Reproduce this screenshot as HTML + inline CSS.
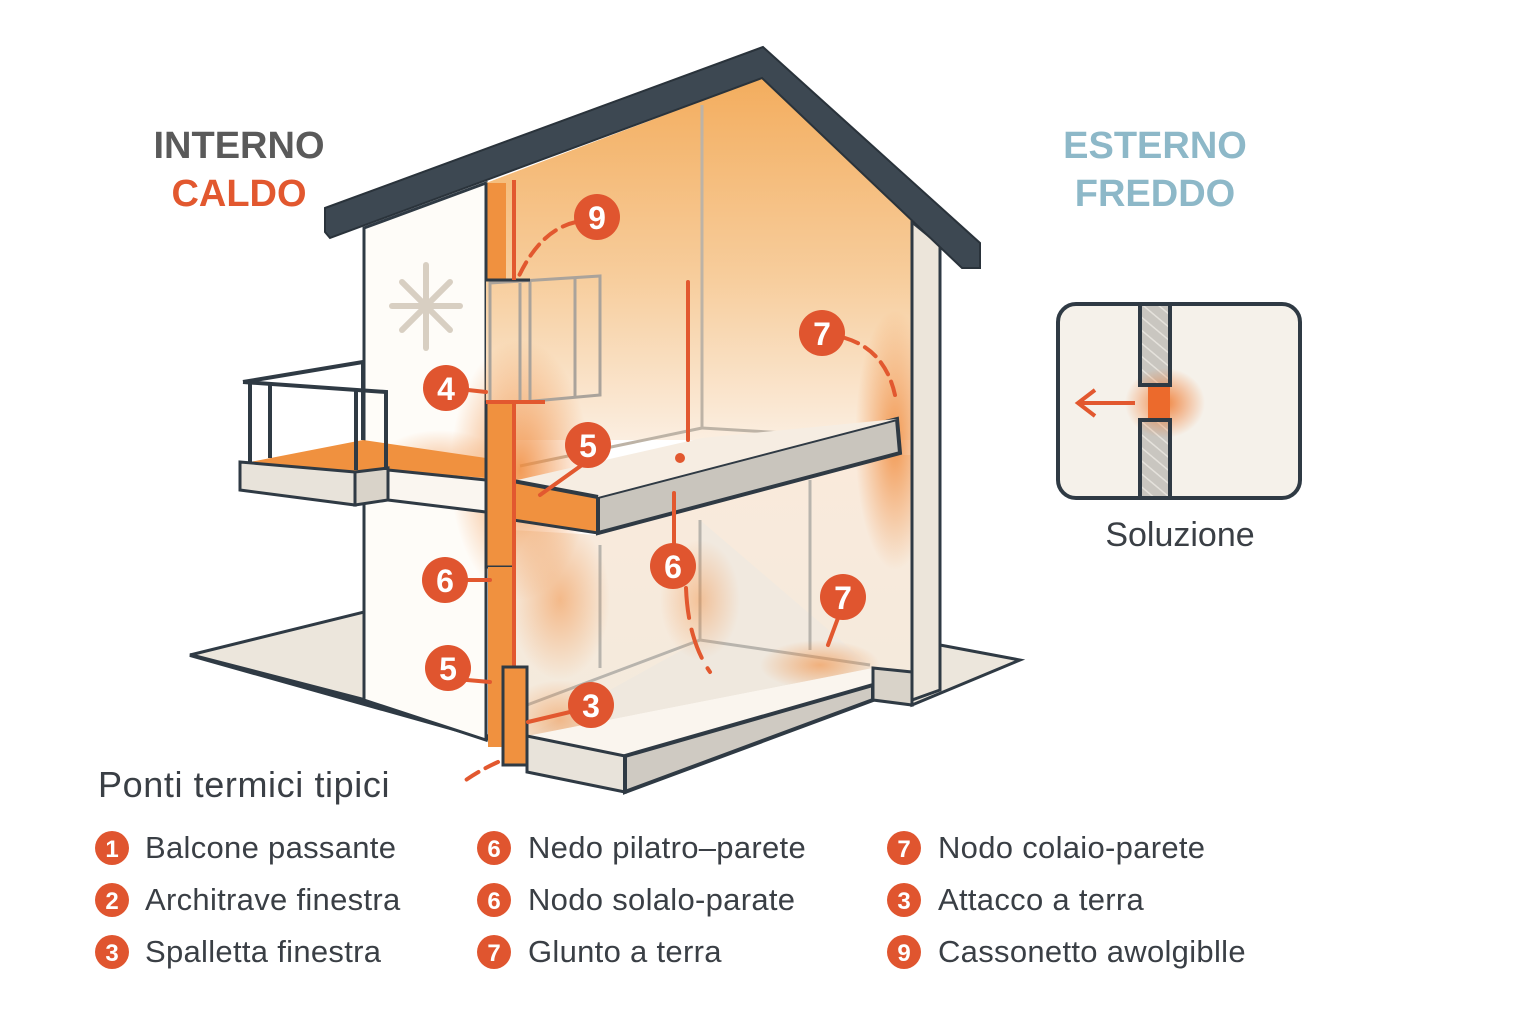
<!DOCTYPE html>
<html><head><meta charset="utf-8"><style>
body{margin:0;background:#fff;}
svg{display:block;}
text{font-family:"Liberation Sans","DejaVu Sans",sans-serif;}
</style></head><body>
<svg width="1536" height="1024" viewBox="0 0 1536 1024" xmlns="http://www.w3.org/2000/svg">
<defs>
<linearGradient id="wall" x1="0" y1="0" x2="0" y2="1">
<stop offset="0" stop-color="#f3ad5e"/><stop offset="0.55" stop-color="#f7cd9c"/><stop offset="1" stop-color="#fbeee0"/></linearGradient>
<linearGradient id="low" x1="0" y1="0" x2="0" y2="1">
<stop offset="0" stop-color="#faeadb"/><stop offset="1" stop-color="#f3eadd"/></linearGradient>
<radialGradient id="glow"><stop offset="0" stop-color="#f08a3a" stop-opacity="0.85"/><stop offset="1" stop-color="#f08a3a" stop-opacity="0"/></radialGradient>
<radialGradient id="glow2"><stop offset="0" stop-color="#f07a30" stop-opacity="0.9"/><stop offset="1" stop-color="#f07a30" stop-opacity="0"/></radialGradient>
<pattern id="hatch" width="10" height="10" patternUnits="userSpaceOnUse" patternTransform="rotate(-50)"><rect width="10" height="10" fill="#c9c6c0"/><line x1="0" y1="0" x2="0" y2="10" stroke="#e5e2dc" stroke-width="3"/></pattern>
</defs>

<polygon points="190,655 364,612 364,700" fill="#ece6dc" stroke="#2f3a44" stroke-width="3"/>
<polygon points="190,655 364,700 500,740 500,742" fill="none" stroke="#2f3a44" stroke-width="4"/>
<polygon points="940,645 1020,660 912,705 912,680" fill="#ece6dc" stroke="#2f3a44" stroke-width="3"/>

<polygon points="364,228 486,183 486,740 364,700" fill="#fefcf8" stroke="#2f3a44" stroke-width="3"/>
<polygon points="486,183 762,78 912,215 912,440 486,440" fill="url(#wall)"/>
<polygon points="513,530 598,535 900,455 912,455 912,672 873,668 527,736 513,736" fill="url(#low)"/>
<polygon points="700,520 700,640 873,668" fill="#f1e9df"/>
<polygon points="527,736 700,640 873,668" fill="#efe8de"/>
<line x1="700" y1="520" x2="700" y2="640" stroke="#b8b4ad" stroke-width="3"/>
<line x1="700" y1="640" x2="527" y2="705" stroke="#b8b4ad" stroke-width="3"/>
<line x1="700" y1="640" x2="870" y2="665" stroke="#b8b4ad" stroke-width="3"/>
<line x1="600" y1="545" x2="600" y2="668" stroke="#b8b4ad" stroke-width="3"/>
<line x1="810" y1="480" x2="810" y2="650" stroke="#b8b4ad" stroke-width="3"/>
<line x1="702" y1="105" x2="702" y2="428" stroke="#bdb3a6" stroke-width="3"/>
<line x1="702" y1="428" x2="520" y2="466" stroke="#bdb3a6" stroke-width="3"/>
<line x1="702" y1="428" x2="870" y2="438" stroke="#bdb3a6" stroke-width="3"/>
<ellipse cx="520" cy="470" rx="70" ry="130" fill="url(#glow)"/>
<ellipse cx="895" cy="440" rx="40" ry="130" fill="url(#glow)"/>
<ellipse cx="560" cy="600" rx="50" ry="80" fill="url(#glow)" opacity="0.6"/>
<ellipse cx="700" cy="600" rx="40" ry="60" fill="url(#glow)" opacity="0.5"/>
<ellipse cx="820" cy="665" rx="60" ry="25" fill="url(#glow)" opacity="0.7"/>
<ellipse cx="560" cy="720" rx="55" ry="40" fill="url(#glow)" opacity="0.6"/>
<ellipse cx="440" cy="460" rx="60" ry="30" fill="url(#glow)" opacity="0.5"/>

<g fill="none" stroke="#aaa39b" stroke-width="3">
<polygon points="490,283 600,276 600,395 490,405"/>
<line x1="530" y1="280" x2="530" y2="402"/><line x1="575" y1="278" x2="575" y2="398"/>
<line x1="520" y1="283" x2="520" y2="403"/>
</g>
<rect x="486" y="183" width="20" height="97" fill="#f0913f"/>
<polyline points="486,183 486,280 530,280" fill="none" stroke="#2f3a44" stroke-width="3"/>
<line x1="514" y1="180" x2="514" y2="280" stroke="#e2582f" stroke-width="4"/>

<polygon points="912,222 940,245 940,690 912,700" fill="#ece5da" stroke="#2f3a44" stroke-width="3"/>
<line x1="912" y1="222" x2="912" y2="672" stroke="#2f3a44" stroke-width="3"/>

<polygon points="325,208 763,47 980,243 980,268 962,268 762,78 330,238 325,232" fill="#3d4852" stroke="#2a333b" stroke-width="2"/>

<g stroke="#d8cfc2" stroke-width="6" stroke-linecap="round" fill="none">
<line x1="426" y1="265" x2="426" y2="348"/><line x1="392" y1="306" x2="460" y2="306"/>
<line x1="402" y1="282" x2="450" y2="330"/><line x1="450" y1="282" x2="402" y2="330"/>
</g>

<polygon points="250,462 363,440 486,458 486,478 388,470 355,472 240,462" fill="#f0913f"/>
<polygon points="240,462 355,472 355,505 240,490" fill="#e8e3da" stroke="#2f3a44" stroke-width="3"/>
<polygon points="355,472 388,468 388,500 355,505" fill="#d9d3c9" stroke="#2f3a44" stroke-width="3"/>
<polygon points="388,470 486,480 486,512 388,500" fill="#faf6f0" stroke="#2f3a44" stroke-width="3"/>
<g fill="none" stroke="#2f3a44" stroke-width="4">
<polyline points="243,382 363,362"/><polyline points="243,382 386,392 386,470"/>
<line x1="250" y1="384" x2="250" y2="462"/><line x1="270" y1="385" x2="270" y2="458"/>
<line x1="356" y1="390" x2="356" y2="470"/><line x1="363" y1="362" x2="363" y2="440"/>
</g>

<polygon points="513,481 598,497 598,533 513,520" fill="#f0913f" stroke="#2f3a44" stroke-width="3"/>
<polygon points="598,497 897,419 900,453 598,533" fill="#c9c5bd" stroke="#2f3a44" stroke-width="4"/>
<polygon points="513,481 702,438 897,419 598,497" fill="#f6ede2"/>
<line x1="513" y1="481" x2="598" y2="497" stroke="#2f3a44" stroke-width="4"/>

<rect x="486" y="402" width="28" height="165" fill="#f0913f" stroke="#2f3a44" stroke-width="3"/>
<rect x="488" y="567" width="24" height="180" fill="#f0913f"/>
<line x1="514" y1="402" x2="514" y2="760" stroke="#e2582f" stroke-width="4"/>
<line x1="486" y1="402" x2="545" y2="402" stroke="#e2582f" stroke-width="4"/>

<polygon points="527,736 873,668 873,698 625,770" fill="#faf5ee"/>
<polygon points="527,736 625,756 625,792 527,772" fill="#e8e3da" stroke="#2f3a44" stroke-width="3"/>
<polygon points="625,756 873,685 873,700 625,792" fill="#cfcac2" stroke="#2f3a44" stroke-width="4"/>
<polygon points="873,668 912,672 912,705 873,700" fill="#d9d3c9" stroke="#2f3a44" stroke-width="3"/>
<rect x="503" y="667" width="24" height="98" fill="#f0913f" stroke="#2f3a44" stroke-width="3"/>

<g stroke="#e2582f" stroke-width="4" fill="none" stroke-linecap="round">
<path d="M576,222 Q540,230 518,278" stroke-dasharray="14,8"/>
<path d="M845,338 Q885,350 895,395" stroke-dasharray="14,8"/>
<line x1="468" y1="390" x2="486" y2="392"/>
<line x1="582" y1="465" x2="540" y2="495"/>
<line x1="467" y1="580" x2="490" y2="580"/>
<line x1="467" y1="680" x2="490" y2="682"/>
<line x1="570" y1="712" x2="528" y2="722"/>
<line x1="688" y1="282" x2="688" y2="440"/>
<line x1="674" y1="493" x2="674" y2="545"/>
<path d="M686,588 Q688,640 710,672" stroke-dasharray="30,12"/>
<line x1="838" y1="618" x2="828" y2="645"/>
<path d="M498,762 Q480,770 463,782" stroke-dasharray="14,8"/>
<circle cx="680" cy="458" r="3" fill="#e2582f"/>
</g>

<g font-size="32" font-weight="bold" fill="#fff" text-anchor="middle">
<g><circle cx="597" cy="217" r="23" fill="#e0552f"/><text x="597" y="229" fill="#fff">9</text></g>
<g><circle cx="446" cy="388" r="23" fill="#e0552f"/><text x="446" y="400" fill="#fff">4</text></g>
<g><circle cx="588" cy="445" r="23" fill="#e0552f"/><text x="588" y="457" fill="#fff">5</text></g>
<g><circle cx="822" cy="333" r="23" fill="#e0552f"/><text x="822" y="345" fill="#fff">7</text></g>
<g><circle cx="445" cy="580" r="23" fill="#e0552f"/><text x="445" y="592" fill="#fff">6</text></g>
<g><circle cx="673" cy="566" r="23" fill="#e0552f"/><text x="673" y="578" fill="#fff">6</text></g>
<g><circle cx="843" cy="597" r="23" fill="#e0552f"/><text x="843" y="609" fill="#fff">7</text></g>
<g><circle cx="448" cy="668" r="23" fill="#e0552f"/><text x="448" y="680" fill="#fff">5</text></g>
<g><circle cx="591" cy="705" r="23" fill="#e0552f"/><text x="591" y="717" fill="#fff">3</text></g>
</g>

<g font-size="38" font-weight="bold" text-anchor="middle">
<text x="239" y="158" fill="#5a5a5a">INTERNO</text>
<text x="239" y="206" fill="#e2582f">CALDO</text>
<text x="1155" y="158" fill="#8db8c8">ESTERNO</text>
<text x="1155" y="206" fill="#8db8c8">FREDDO</text>
</g>

<rect x="1058" y="304" width="242" height="194" rx="18" fill="#f5f1ea" stroke="#2f3a44" stroke-width="4"/>
<rect x="1140" y="306" width="30" height="79" fill="url(#hatch)"/>
<rect x="1140" y="420" width="30" height="76" fill="url(#hatch)"/>
<ellipse cx="1165" cy="403" rx="40" ry="35" fill="url(#glow2)"/>
<rect x="1148" y="386" width="22" height="33" fill="#ec6a2c"/>
<polyline points="1140,306 1140,385 1170,385 1170,306" fill="none" stroke="#2f3a44" stroke-width="4"/>
<polyline points="1140,496 1140,420 1170,420 1170,496" fill="none" stroke="#2f3a44" stroke-width="4"/>
<line x1="1135" y1="403" x2="1080" y2="403" stroke="#e2582f" stroke-width="4"/>
<polyline points="1095,390 1078,403 1095,416" fill="none" stroke="#e2582f" stroke-width="4"/>
<text x="1180" y="546" font-size="34" fill="#3a3f45" text-anchor="middle">Soluzione</text>

<text x="98" y="797" font-size="36" fill="#3a3f45" letter-spacing="0.6">Ponti termici tipici</text>
<g font-size="31" fill="#3a3f45" letter-spacing="0.3">
<text x="145" y="858">Balcone passante</text>
<text x="145" y="910">Architrave finestra</text>
<text x="145" y="962">Spalletta finestra</text>
<text x="528" y="858">Nedo pilatro–parete</text>
<text x="528" y="910">Nodo solalo-parate</text>
<text x="528" y="962">Glunto a terra</text>
<text x="938" y="858">Nodo colaio-parete</text>
<text x="938" y="910">Attacco a terra</text>
<text x="938" y="962">Cassonetto awolgiblle</text>
</g>
<g font-size="24" font-weight="bold" text-anchor="middle">
<circle cx="112" cy="848" r="17" fill="#e0552f"/><text x="112" y="857" fill="#fff">1</text>
<circle cx="112" cy="900" r="17" fill="#e0552f"/><text x="112" y="909" fill="#fff">2</text>
<circle cx="112" cy="952" r="17" fill="#e0552f"/><text x="112" y="961" fill="#fff">3</text>
<circle cx="494" cy="848" r="17" fill="#e0552f"/><text x="494" y="857" fill="#fff">6</text>
<circle cx="494" cy="900" r="17" fill="#e0552f"/><text x="494" y="909" fill="#fff">6</text>
<circle cx="494" cy="952" r="17" fill="#e0552f"/><text x="494" y="961" fill="#fff">7</text>
<circle cx="904" cy="848" r="17" fill="#e0552f"/><text x="904" y="857" fill="#fff">7</text>
<circle cx="904" cy="900" r="17" fill="#e0552f"/><text x="904" y="909" fill="#fff">3</text>
<circle cx="904" cy="952" r="17" fill="#e0552f"/><text x="904" y="961" fill="#fff">9</text>
</g>
</svg>
</body></html>
